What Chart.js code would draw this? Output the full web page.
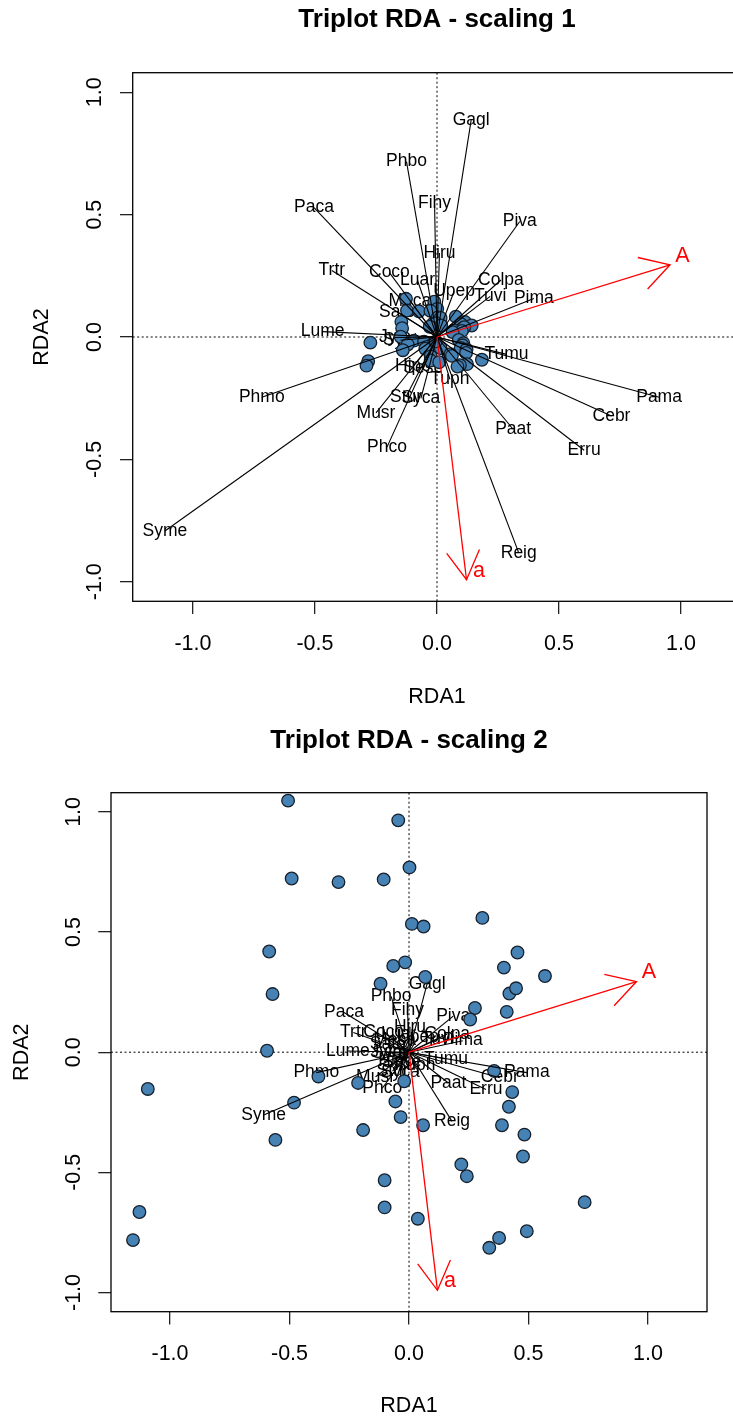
<!DOCTYPE html>
<html>
<head>
<meta charset="utf-8">
<script src="https://cdn.jsdelivr.net/npm/chart.js@4.4.1/dist/chart.umd.min.js"></script>
<style>
  html, body { margin: 0; padding: 0; background: #fff; overflow: hidden; }
  #page { position: relative; width: 733px; height: 1421px; overflow: hidden; }
  #c1 { position: absolute; left: 0; top: 0; }
  #c2 { position: absolute; left: 0; top: 720px; }
</style>
</head>
<body>
<div id="page">
  <canvas id="c1" width="760" height="720"></canvas>
  <canvas id="c2" width="733" height="701"></canvas>
</div>
<script>
// species codes (same order in both scalings)
const species = ['Gagl', 'Phbo', 'Fihy', 'Paca', 'Piva', 'Hiru', 'Trtr', 'Coco', 'Luar', 'Colpa', 'Upep',
  'Tuvi', 'Pima', 'Meca', 'Sato', 'Lume', 'Jyto', 'Syat', 'Tumu', 'Phmo', 'Syme', 'Pama', 'Cebr',
  'Erru', 'Paat', 'Reig', 'Tuph', 'Phco', 'Musr', 'Stur', 'Syca', 'Hipo', 'Sese'];

// species scores, scaling 1
const spe1X = [0.140, -0.125, -0.010, -0.504, 0.339, 0.010, -0.431, -0.195, -0.080, 0.262, 0.070,
  0.218, 0.397, -0.111, -0.164, -0.469, -0.172, -0.150, 0.285, -0.718, -1.115, 0.910, 0.715,
  0.603, 0.312, 0.335, 0.053, -0.205, -0.250, -0.127, -0.066, -0.098, -0.056];
const spe1Y = [0.886, 0.717, 0.547, 0.529, 0.472, 0.343, 0.272, 0.263, 0.232, 0.233, 0.187,
  0.166, 0.157, 0.148, 0.103, 0.022, -0.002, -0.013, -0.071, -0.246, -0.793, -0.246, -0.323,
  -0.463, -0.377, -0.882, -0.173, -0.450, -0.310, -0.244, -0.251, -0.119, -0.128];

// species scores, scaling 2
const spe2X = [0.076, -0.075, -0.006, -0.272, 0.185, 0.004, -0.233, -0.106, -0.044, 0.160, 0.038,
  0.119, 0.225, -0.060, -0.089, -0.256, -0.094, -0.082, 0.155, -0.388, -0.608, 0.493, 0.380,
  0.322, 0.165, 0.180, 0.029, -0.112, -0.140, -0.069, -0.036, -0.053, -0.031];
const spe2Y = [0.285, 0.232, 0.175, 0.165, 0.150, 0.106, 0.082, 0.085, 0.075, 0.076, 0.061,
  0.054, 0.048, 0.048, 0.033, 0.005, -0.001, -0.004, -0.028, -0.085, -0.261, -0.085, -0.106,
  -0.155, -0.128, -0.288, -0.056, -0.150, -0.102, -0.079, -0.082, -0.039, -0.042];

// site scores, scaling 1
const site1X = [-0.127, -0.011, 0.001, -0.123, -0.074, -0.027, 0.077, 0.003, 0.015, -0.146, 0.114,
  -0.017, -0.004, 0.099, -0.143, 0.142, 0.017, -0.030, 0.105, 0.112, 0.069, 0.102, 0.064, -0.149,
  -0.273, 0.089, 0.108, 0.105, -0.095, -0.053, -0.120, -0.014, -0.009, 0.015, 0.097, 0.121, -0.140,
  -0.048, 0.119, 0.055, 0.061, -0.026, -0.026, 0.184, 0.009, 0.123, 0.094, 0.084, -0.282, -0.289, -0.005];
const site1Y = [0.156, 0.144, 0.115, 0.108, 0.105, 0.107, 0.083, 0.080, 0.078, 0.062, 0.062,
  0.053, 0.056, 0.052, 0.036, 0.047, 0.047, 0.042, 0.036, 0.040, 0.027, 0.025, 0.020, 0.001,
  -0.023, -0.012, -0.025, -0.034, -0.015, -0.019, -0.031, -0.031, -0.040, -0.045, -0.045, -0.051, -0.054,
  -0.048, -0.065, -0.070, -0.077, -0.079, -0.096, -0.093, -0.103, -0.111, -0.115, -0.121, -0.099, -0.117, -0.018];

// site scores, scaling 2
const site2X = [-0.506, -0.045, 0.002, -0.491, -0.295, -0.106, 0.307, 0.012, 0.061, -0.585, 0.454,
  -0.066, -0.016, 0.397, -0.571, 0.569, 0.068, -0.119, 0.420, 0.448, 0.276, 0.409, 0.256, -0.594,
  -1.093, 0.356, 0.432, 0.418, -0.379, -0.213, -0.481, -0.057, -0.035, 0.059, 0.389, 0.483, -0.559,
  -0.192, 0.477, 0.219, 0.242, -0.102, -0.102, 0.735, 0.037, 0.493, 0.377, 0.336, -1.128, -1.155, -0.020];
const site2Y = [1.047, 0.965, 0.769, 0.723, 0.708, 0.719, 0.559, 0.534, 0.523, 0.419, 0.415,
  0.359, 0.374, 0.352, 0.242, 0.317, 0.313, 0.285, 0.244, 0.266, 0.184, 0.168, 0.136, 0.006,
  -0.153, -0.078, -0.166, -0.227, -0.101, -0.128, -0.210, -0.205, -0.270, -0.304, -0.304, -0.343, -0.365,
  -0.324, -0.434, -0.467, -0.516, -0.533, -0.646, -0.624, -0.693, -0.745, -0.773, -0.814, -0.665, -0.782, -0.121];

// explanatory variables (biplot arrows)
const envNames = ['A', 'a'];
const env1X = [0.955, 0.121];
const env1Y = [0.295, -0.992];
const env2X = [0.952, 0.119];
const env2Y = [0.294, -0.991];

const FONT = '"Liberation Sans", Arial, Helvetica, sans-serif';

function arrowHead(ctx, x0, y0, x1, y1, len) {
  const ang = Math.atan2(y1 - y0, x1 - x0);
  ctx.beginPath();
  ctx.moveTo(x1 - len * Math.cos(ang - Math.PI / 6), y1 - len * Math.sin(ang - Math.PI / 6));
  ctx.lineTo(x1, y1);
  ctx.lineTo(x1 - len * Math.cos(ang + Math.PI / 6), y1 - len * Math.sin(ang + Math.PI / 6));
  ctx.stroke();
}

function triplot(id, c) {
  const datasets = [];
  datasets.push({
    label: 'sites',
    data: c.siteX.map((x, i) => ({ x, y: c.siteY[i] })),
    pointRadius: 6.3,
    pointBackgroundColor: '#4682B4',
    pointBorderColor: '#16202c',
    pointBorderWidth: 1.3,
    showLine: false,
    order: 3
  });
  species.forEach((name, i) => {
    datasets.push({
      label: name,
      data: [{ x: 0, y: 0 }, { x: c.speX[i], y: c.speY[i] }],
      showLine: true,
      borderColor: '#000',
      borderWidth: 1.1,
      pointRadius: 0,
      order: 2
    });
  });
  envNames.forEach((name, i) => {
    datasets.push({
      label: name,
      data: [{ x: 0, y: 0 }, { x: c.envX[i], y: c.envY[i] }],
      showLine: true,
      borderColor: '#ff0000',
      borderWidth: 1.3,
      pointRadius: 0,
      order: 1
    });
  });

  const decor = {
    id: 'decor',
    beforeDatasetsDraw(chart) {
      const { ctx, chartArea: a, scales: { x, y } } = chart;
      ctx.save();
      // dotted lines through the origin
      ctx.strokeStyle = '#000';
      ctx.lineWidth = 1;
      ctx.setLineDash([2, 2.5]);
      ctx.beginPath();
      ctx.moveTo(x.getPixelForValue(0), a.top);
      ctx.lineTo(x.getPixelForValue(0), a.bottom);
      ctx.moveTo(a.left, y.getPixelForValue(0));
      ctx.lineTo(a.right, y.getPixelForValue(0));
      ctx.stroke();
      ctx.setLineDash([]);
      // species names at their scores
      ctx.fillStyle = '#000';
      ctx.font = '17.5px ' + FONT;
      ctx.textAlign = 'center';
      ctx.textBaseline = 'middle';
      species.forEach((name, i) => {
        ctx.fillText(name, x.getPixelForValue(c.speX[i]), y.getPixelForValue(c.speY[i]));
      });
      ctx.restore();
    },
    afterDatasetsDraw(chart) {
      const { ctx, chartArea: a, scales: { x, y } } = chart;
      ctx.save();
      ctx.strokeStyle = '#ff0000';
      ctx.lineWidth = 1.3;
      ctx.fillStyle = '#ff0000';
      ctx.font = '21.5px ' + FONT;
      ctx.textAlign = 'center';
      ctx.textBaseline = 'middle';
      const ox = x.getPixelForValue(0), oy = y.getPixelForValue(0);
      envNames.forEach((name, i) => {
        const tx = x.getPixelForValue(c.envX[i]), ty = y.getPixelForValue(c.envY[i]);
        arrowHead(ctx, ox, oy, tx, ty, 33);
        ctx.fillText(name, tx + 12.5, ty - 9);
      });
      // plot frame
      ctx.strokeStyle = '#000';
      ctx.lineWidth = 1.3;
      ctx.strokeRect(a.left, a.top, a.right - a.left, a.bottom - a.top);
      ctx.restore();
    }
  };

  const tickFont = { family: FONT, size: 21.5 };
  const grid = { drawOnChartArea: false, drawTicks: true, tickLength: 12.7, tickColor: '#222', tickWidth: 1.3, lineWidth: 1.3 };

  return new Chart(document.getElementById(id), {
    type: 'scatter',
    data: { datasets },
    options: {
      responsive: false,
      animation: false,
      devicePixelRatio: 1,
      layout: { padding: { left: 0, right: c.padRight, top: 0, bottom: 0 } },
      plugins: {
        legend: { display: false },
        tooltip: { enabled: false },
        title: {
          display: true,
          text: c.title,
          fullSize: false,
          color: '#000',
          font: { family: FONT, size: 26, weight: 'bold' },
          padding: { top: c.titleTop, bottom: c.titleBottom }
        }
      },
      scales: {
        x: {
          type: 'linear',
          min: -1.247,
          max: 1.247,
          afterFit: s => { s.height = c.xAxisH; },
          border: { display: false },
          grid,
          ticks: {
            stepSize: 0.5, includeBounds: false, autoSkip: false, maxRotation: 0, minRotation: 0,
            padding: 17, color: '#000', font: tickFont, callback: v => v.toFixed(1)
          },
          title: { display: true, text: 'RDA1', color: '#000', font: tickFont, padding: { top: 0, bottom: c.xTitlePad } }
        },
        y: {
          type: 'linear',
          min: -1.08,
          max: 1.08,
          afterFit: s => { s.width = c.yAxisW; },
          border: { display: false },
          grid,
          ticks: {
            stepSize: 0.5, includeBounds: false, autoSkip: false, minRotation: 90, maxRotation: 90,
            crossAlign: 'center', padding: 6, color: '#000', font: tickFont, callback: v => v.toFixed(1)
          },
          title: { display: true, text: 'RDA2', color: '#000', font: tickFont, padding: { top: c.yTitlePad, bottom: 0 } }
        }
      }
    },
    plugins: [decor]
  });
}

triplot('c1', {
  title: 'Triplot RDA - scaling 1',
  speX: spe1X, speY: spe1Y, siteX: site1X, siteY: site1Y, envX: env1X, envY: env1Y,
  padRight: 18.7, yAxisW: 132.7, xAxisH: 118.7,
  titleTop: 4.4, titleBottom: 37.1, xTitlePad: 10.1, yTitlePad: 28.7
});

triplot('c2', {
  title: 'Triplot RDA - scaling 2',
  speX: spe2X, speY: spe2Y, siteX: site2X, siteY: site2Y, envX: env2X, envY: env2Y,
  padRight: 26, yAxisW: 111, xAxisH: 109.3,
  titleTop: 5.4, titleBottom: 36.1, xTitlePad: 2.1, yTitlePad: 9.1
});
</script>
</body>
</html>
